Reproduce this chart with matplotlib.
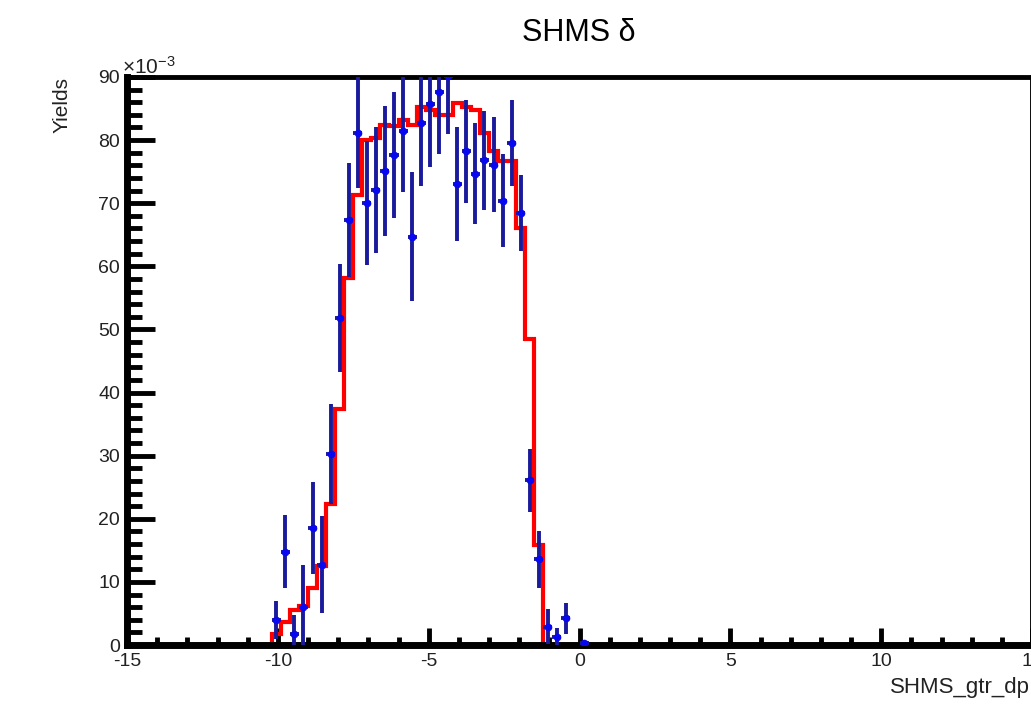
import numpy as np
import matplotlib
matplotlib.use("Agg")
import matplotlib.pyplot as plt
from matplotlib.ticker import MultipleLocator

plt.rcParams['font.family'] = ['Liberation Sans', 'DejaVu Sans']
plt.rcParams['axes.unicode_minus'] = False

# histogram binning: 100 bins from -15 to 15 (width 0.3)
bin_width = 0.3
first_lo = -10.2   # low edge of first filled bin

# simulation yield (red), x10^-3, one value per bin from first_lo
sim_yield = [1.8, 3.6, 5.5, 6.2, 9.1, 12.5, 22.4, 37.4, 58.2, 71.3,
             80.0, 80.4, 82.4, 82.2, 83.2, 82.4, 85.3, 84.8, 84.0, 84.0,
             85.9, 85.2, 84.8, 81.2, 78.2, 76.7, 76.7, 66.0, 48.5, 15.8]

# data yield (blue) with errors, bins starting at first_lo
data_yield = [3.9, 14.8, 1.7, 6.1, 18.5, 12.7, 30.3, 51.8, 67.3, 81.2,
              70.0, 72.1, 75.1, 77.6, 81.5, 64.7, 82.7, 85.7, 87.6, 90.2,
              73.0, 78.2, 74.7, 76.8, 76.1, 70.4, 79.5, 68.5, 26.1, 13.6,
              2.9, 1.2, 4.2, None, 0.3]
data_err = [3.0, 5.8, 3.0, 6.5, 7.3, 7.7, 7.9, 8.6, 9.0, 8.8,
            9.8, 10.0, 10.3, 10.0, 9.8, 10.2, 10.0, 10.0, 9.8, 9.3,
            9.0, 8.2, 8.0, 7.8, 7.5, 7.4, 6.8, 6.0, 5.0, 4.5,
            2.8, 1.5, 2.5, None, 0.4]

fig = plt.figure(figsize=(10.31, 7.04), dpi=100)
ax = fig.add_axes([127 / 1031, 59 / 704, 905 / 1031, 568 / 704])

edges = first_lo + bin_width * np.arange(len(sim_yield) + 1)
ax.stairs(sim_yield, edges, baseline=0, color='#ff0000', lw=3, zorder=2)

xs, ys, es = [], [], []
for i, (v, e) in enumerate(zip(data_yield, data_err)):
    if v is None:
        continue
    xs.append(first_lo + bin_width * (i + 0.5))
    ys.append(v)
    es.append(e)
ax.errorbar(xs, ys, yerr=es, xerr=bin_width / 2, fmt='o', ms=4.5,
            color='#0808f0', ecolor='#1a1a9c', elinewidth=2.8, capsize=0, zorder=3)

ax.set_xlim(-15, 15)
ax.set_ylim(0, 90)
ax.set_xticks(range(-15, 16, 5))
ax.set_yticks(range(0, 91, 10))
ax.xaxis.set_minor_locator(MultipleLocator(1))
ax.yaxis.set_minor_locator(MultipleLocator(2))

ax.tick_params(axis='x', which='major', direction='in', length=12, width=3.5,
               labelsize=14, pad=6, top=False, labelcolor='#222222')
ax.tick_params(axis='x', which='minor', direction='in', length=6, width=3.5, top=False)
ax.tick_params(axis='y', which='major', direction='in', length=20, width=3.5,
               labelsize=14, pad=5, right=False, labelcolor='#222222')
ax.tick_params(axis='y', which='minor', direction='in', length=11, width=3.5, right=False)

ax.spines['left'].set_linewidth(5)
ax.spines['bottom'].set_linewidth(5)
ax.spines['top'].set_linewidth(3.5)
ax.spines['right'].set_linewidth(3.5)

fig.text(579 / 1031, 1 - 41 / 704, 'SHMS δ', ha='center', va='baseline', fontsize=22)
fig.text(62 / 1031, 1 - 77 / 704, 'Yields', rotation=90, ha='center', va='top',
         fontsize=15, color='#222222')
fig.text(1030 / 1031, 1 - 688 / 704, 'SHMS_gtr_dp', ha='right', va='center',
         fontsize=16, color='#222222')
fig.text(122 / 1031, 1 - 74 / 704, r'$\mathregular{\times10^{-3}}$', ha='left',
         va='baseline', fontsize=15, color='#222222')

fig.savefig('out.png', dpi=100)
